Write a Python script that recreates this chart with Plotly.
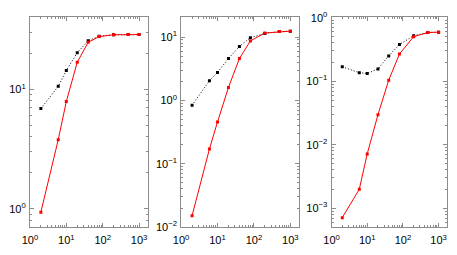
import plotly.graph_objects as go

x_vals = [2, 6, 10, 20, 40, 80, 200, 500, 1000]

red_1 = [0.935, 3.78, 7.9, 16.9, 24.8, 27.7, 28.7, 28.8, 28.8]
black_1 = [6.9, 10.6, 14.4, 20.3, 25.6, 27.9, 28.7, 28.8, 28.8]

red_2 = [0.0151, 0.171, 0.458, 1.60, 4.58, 8.69, 11.6, 12.2, 12.4]
black_2 = [0.84, 2.04, 2.77, 4.60, 7.1, 9.8, 11.4, 12.2, 12.4]

red_3 = [0.00071, 0.00199, 0.00716, 0.0297, 0.1035, 0.268, 0.502, 0.583, 0.591]
black_3 = [0.168, 0.136, 0.132, 0.156, 0.250, 0.378, 0.520, 0.583, 0.591]

x_tickvals = [1, 10, 100, 1000]
x_ticktext = ["10<sup>0</sup>", "10<sup>1</sup>", "10<sup>2</sup>", "10<sup>3</sup>"]

y_tickvals_1 = [1, 10]
y_ticktext_1 = ["10<sup>0</sup>", "10<sup>1</sup>"]
y_tickvals_2 = [0.01, 0.1, 1, 10]
y_ticktext_2 = ["10<sup>\u22122</sup>", "10<sup>\u22121</sup>", "10<sup>0</sup>", "10<sup>1</sup>"]
y_tickvals_3 = [0.001, 0.01, 0.1, 1]
y_ticktext_3 = ["10<sup>\u22123</sup>", "10<sup>\u22122</sup>", "10<sup>\u22121</sup>", "10<sup>0</sup>"]

W, H = 457, 255
x_domains = [(22.3, 142.3), (176.2, 296.2), (329.3, 447.0)]
y_top, y_bot = 10.0, 232.0
y_ranges = [[-0.156, 1.603], [-2.003, 1.31], [-3.30, 0.003]]

panels = [
    (red_1, black_1, y_tickvals_1, y_ticktext_1),
    (red_2, black_2, y_tickvals_2, y_ticktext_2),
    (red_3, black_3, y_tickvals_3, y_ticktext_3),
]

fig = go.Figure()
frame_color = "#8c8c8c"
font = dict(family="Liberation Sans, Arial, sans-serif", size=11, color="black")

for i, (red, black, ytv, ytt) in enumerate(panels):
    n = "" if i == 0 else str(i + 1)
    fig.add_trace(go.Scatter(
        x=x_vals, y=black, mode="lines+markers",
        line=dict(color="black", width=1, dash="1px,2px"),
        marker=dict(color="black", size=3, symbol="square"),
        xaxis="x" + n, yaxis="y" + n, showlegend=False))
    fig.add_trace(go.Scatter(
        x=x_vals, y=red, mode="lines+markers",
        line=dict(color="#ff0000", width=1),
        marker=dict(color="#ff0000", size=3, symbol="square"),
        xaxis="x" + n, yaxis="y" + n, showlegend=False))
    d0, d1 = x_domains[i]
    axcommon = dict(showgrid=False, zeroline=False, showline=True, linecolor=frame_color,
                    linewidth=1, mirror="allticks", ticks="inside", ticklen=4,
                    tickcolor=frame_color, tickfont=font,
                    minor=dict(ticks="inside", ticklen=2, tickcolor=frame_color,
                               tickmode="linear", dtick="D1", showgrid=False))
    fig.update_layout(**{
        "xaxis" + n: dict(type="log", range=[0, 3.24],
                          domain=[d0 / W, d1 / W],
                          tickvals=x_tickvals, ticktext=x_ticktext,
                          ticklabelstandoff=3,
                          anchor="y" + n, **axcommon),
        "yaxis" + n: dict(type="log", range=y_ranges[i],
                          domain=[(H - y_bot) / H, (H - y_top) / H],
                          tickvals=ytv, ticktext=ytt,
                          ticklabelstandoff=1,
                          anchor="x" + n, **axcommon),
    })

fig.update_layout(width=W, height=H, margin=dict(l=0, r=0, t=0, b=0),
                  plot_bgcolor="white", paper_bgcolor="white", font=font)

fig.write_html("out.html", config={"displayModeBar": False},
               post_script="document.body.style.margin='0';document.body.style.overflow='hidden';")
